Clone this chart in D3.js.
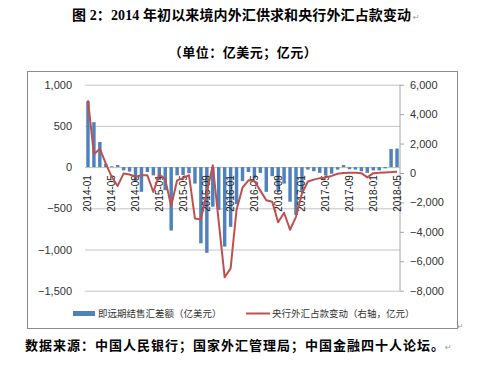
<!DOCTYPE html>
<html>
<head>
<meta charset="utf-8">
<script src="https://cdn.jsdelivr.net/npm/d3@7"></script>
<style>
  html, body { margin: 0; padding: 0; background: #fff; }
  svg { display: block; }
</style>
</head>
<body>
<svg id="chart" width="498" height="373"></svg>
<script>
const months = [
  "2014-01","2014-02","2014-03","2014-04","2014-05","2014-06","2014-07","2014-08","2014-09","2014-10","2014-11","2014-12",
  "2015-01","2015-02","2015-03","2015-04","2015-05","2015-06","2015-07","2015-08","2015-09","2015-10","2015-11","2015-12",
  "2016-01","2016-02","2016-03","2016-04","2016-05","2016-06","2016-07","2016-08","2016-09","2016-10","2016-11","2016-12",
  "2017-01","2017-02","2017-03","2017-04","2017-05","2017-06","2017-07","2017-08","2017-09","2017-10","2017-11","2017-12",
  "2018-01","2018-02","2018-03","2018-04","2018-05"
];
// 即远期结售汇差额（亿美元）
const fxSettlement = [
  800, 545, 305, 40, 10, 25, -40, -55, -175, -300, -60, -100,
  -160, -280, -770, -100, -95, -75, -200, -925, -1040, -480, -520, -965,
  -725, -450, -170, -60, -140, -70, -300, -110, -300, -200, -420, -580,
  -300, -30, -50, -70, -100, -80, -30, 25, -25, -30, -50, -70,
  -40, -40, -15, 220, 225
];
// 央行外汇占款变动（右轴，亿元）
const pbocFx = [
  4930, 1270, 1650, 640, -270, -880, -30, -100, -250, -160, -160, -1290,
  -110, -450, -2250, -500, -350, -150, -3100, -3160, -1300, 520, -3300, -7090,
  -6480, -2500, -1000, -500, -540, -1200, -1850, -1960, -3350, -2700, -3860, -2980,
  -1400, -580, -450, -350, -300, -200, -50, 0, 10, 20, -10, -300,
  -10, 10, 40, 60, 90
];
const xTickLabels = ["2014-01","2014-05","2014-09","2015-01","2015-05","2015-09","2016-01","2016-05","2016-09","2017-01","2017-05","2017-09","2018-01","2018-05"];
const leftTicks = [1000, 500, 0, -500, -1000, -1500];
const rightTicks = [6000, 4000, 2000, 0, -2000, -4000, -6000, -8000];
const titleText = "图 2：2014 年初以来境内外汇供求和央行外汇占款变动";
const subtitleText = "（单位：亿美元；亿元）";
const sourceText = "数据来源：中国人民银行；国家外汇管理局；中国金融四十人论坛。";
const legendBar = "即远期结售汇差额（亿美元）";
const legendLine = "央行外汇占款变动（右轴，亿元）";

const svg = d3.select("#chart");
const plotL = 85, plotR = 400, plotT = 84.7, plotB = 290.7;
const barColor = "#4F81BD", lineColor = "#C0504D";
const axisFont = "'Liberation Sans', Arial, sans-serif";
const cjkBold = "'Liberation Serif', 'Noto Sans CJK SC', serif";

const x = d3.scaleBand().domain(months).range([plotL, plotR]).paddingInner(0.42).paddingOuter(0.21);
const yL = d3.scaleLinear().domain([-1500, 1000]).range([plotB, plotT]);
const yR = d3.scaleLinear().domain([-8000, 6000]).range([plotB, plotT]);

// title
const title = svg.append("text").attr("x", 72).attr("y", 20)
  .attr("font-family", cjkBold).attr("font-weight", "bold").attr("font-size", 14)
  .attr("fill", "#000");
title.append("tspan").attr("textLength", 339).attr("lengthAdjust", "spacing").text(titleText);
title.append("tspan").attr("dx", 2).attr("font-family", "'DejaVu Sans', sans-serif").attr("font-weight", "normal")
  .attr("font-size", 8).attr("fill", "#999").text("↵");

svg.append("text").attr("x", 243).attr("y", 57).attr("text-anchor", "middle")
  .attr("font-family", cjkBold).attr("font-weight", "bold").attr("font-size", 13)
  .attr("letter-spacing", 0.5).attr("fill", "#000").text(subtitleText);

// chart border
svg.append("rect").attr("x", 27.5).attr("y", 71.5).attr("width", 430).attr("height", 257)
  .attr("fill", "none").attr("stroke", "#8c8c8c").attr("stroke-width", 1);

// gridlines (left axis)
const gridAxis = d3.axisLeft(yL).tickValues(leftTicks).tickSize(-(plotR - plotL)).tickFormat(d3.format(","));
const gL = svg.append("g").attr("transform", `translate(${plotL},0)`).call(gridAxis);
gL.select(".domain").remove();
gL.selectAll(".tick line").attr("stroke", "#c4c4c4").attr("stroke-width", 1);
gL.selectAll(".tick text").attr("x", -13).attr("font-family", axisFont).attr("font-size", 11).attr("fill", "#333");

// right axis
const rAxis = d3.axisRight(yR).tickValues(rightTicks).tickSize(4).tickFormat(d3.format(","));
const gR = svg.append("g").attr("transform", `translate(${plotR},0)`).call(rAxis);
gR.select(".domain").attr("stroke", "#a6a6a6").attr("d", `M0,${plotT}V${plotB}`);
gR.selectAll(".tick line").attr("stroke", "#a6a6a6");
gR.selectAll(".tick text").attr("x", 10).attr("font-family", axisFont).attr("font-size", 11).attr("fill", "#333");

// bars
svg.append("g").selectAll("rect").data(months).join("rect")
  .attr("x", (d) => x(d))
  .attr("width", x.bandwidth())
  .attr("y", (d, i) => Math.min(yL(fxSettlement[i]), yL(0)))
  .attr("height", (d, i) => Math.abs(yL(fxSettlement[i]) - yL(0)))
  .attr("fill", barColor);

// x labels
const xAxis = d3.axisBottom(x).tickValues(xTickLabels).tickSize(0).tickPadding(0);
const gX = svg.append("g").attr("transform", `translate(0,${yL(0)})`).call(xAxis);
gX.select(".domain").remove();
gX.selectAll(".tick text")
  .attr("transform", "rotate(-90)")
  .attr("x", -8).attr("y", 0).attr("dy", "0.35em")
  .attr("text-anchor", "end")
  .attr("font-family", axisFont).attr("font-size", 10).attr("fill", "#222");

// line
const line = d3.line().x((d, i) => x(months[i]) + x.bandwidth() / 2).y((d) => yR(d));
svg.append("path").datum(pbocFx).attr("d", line)
  .attr("fill", "none").attr("stroke", lineColor).attr("stroke-width", 2).attr("stroke-linejoin", "round");

// legend
svg.append("rect").attr("x", 73).attr("y", 311).attr("width", 22).attr("height", 5).attr("fill", barColor);
svg.append("text").attr("x", 98).attr("y", 317).attr("font-family", "'Noto Sans CJK SC', sans-serif")
  .attr("font-size", 9.5).attr("fill", "#333").text(legendBar);
svg.append("line").attr("x1", 246).attr("x2", 270).attr("y1", 313.5).attr("y2", 313.5)
  .attr("stroke", lineColor).attr("stroke-width", 2);
svg.append("text").attr("x", 272).attr("y", 317).attr("font-family", "'Noto Sans CJK SC', sans-serif")
  .attr("font-size", 9.5).attr("fill", "#333").text(legendLine);

// return mark at chart corner
svg.append("text").attr("x", 457).attr("y", 329).attr("font-family", "'DejaVu Sans', sans-serif")
  .attr("font-size", 8).attr("fill", "#999").text("↵");

// source
const src = svg.append("text").attr("x", 25).attr("y", 350)
  .attr("font-family", cjkBold).attr("font-weight", "bold").attr("font-size", 13)
  .attr("letter-spacing", 1).attr("fill", "#000");
src.append("tspan").text(sourceText);
src.append("tspan").attr("font-family", "'DejaVu Sans', sans-serif").attr("font-weight", "normal")
  .attr("font-size", 8).attr("fill", "#999").attr("letter-spacing", 0).text("↵");
</script>
</body>
</html>
